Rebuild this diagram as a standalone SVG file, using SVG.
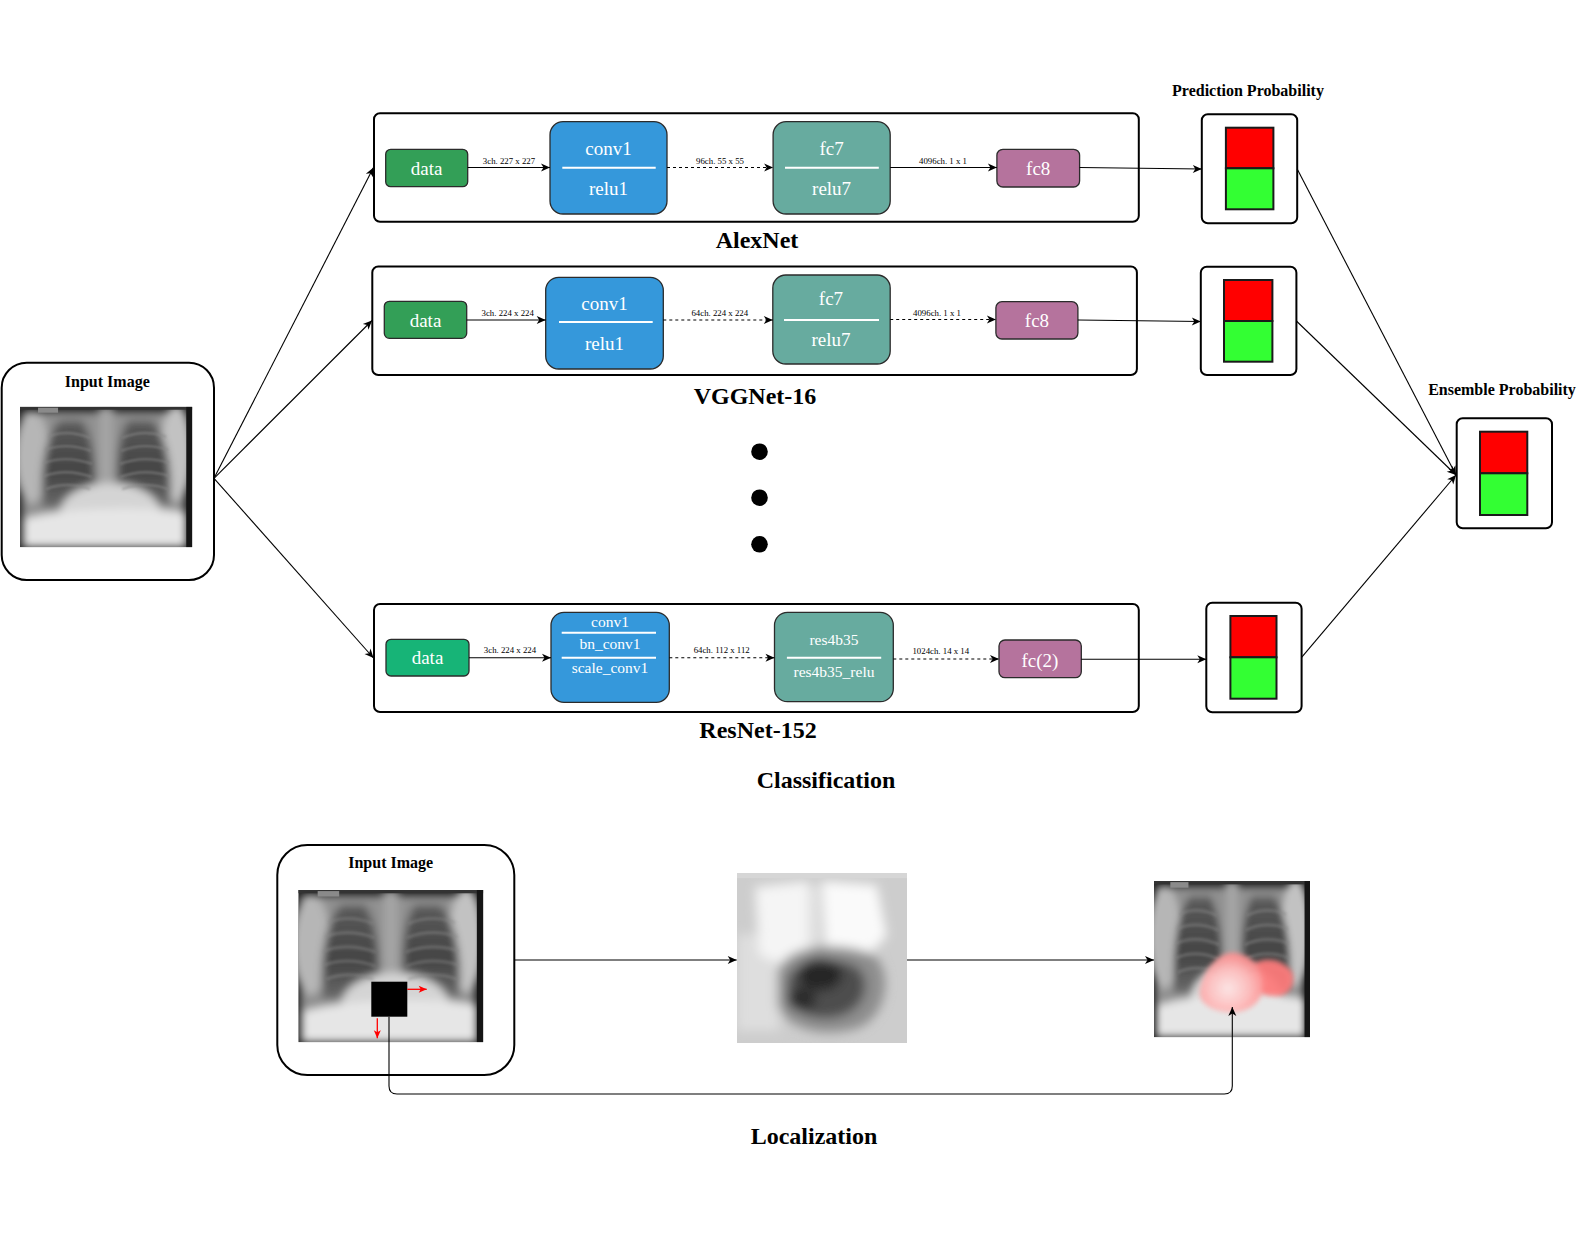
<svg xmlns="http://www.w3.org/2000/svg" xmlns:xlink="http://www.w3.org/1999/xlink" width="1593" height="1254" viewBox="0 0 1593 1254">
<style>
text{font-family:"Liberation Serif","Times New Roman",serif;text-anchor:middle}
.frame{fill:#fff;stroke:#000;stroke-width:2}
.nd{stroke:#2b2b2b;stroke-width:1.3}
.gA{fill:#339f57}
.gR{fill:#17b477}
.bl{fill:#3598db}
.tl{fill:#67ab9f}
.pk{fill:#b5739d}
.wt{fill:#fff;font-size:19px}
.ws{fill:#fff;font-size:15.5px}
.sep{stroke:#fff;stroke-width:2}
.lbl{font-size:8.8px;fill:#000}
.title{font-size:24px;font-weight:bold;fill:#000}
.sub{font-size:16px;font-weight:bold;fill:#000}
.c{fill:none;stroke:#000;stroke-width:1.1;marker-end:url(#arr)}
.d{stroke-dasharray:3 3}
.red{fill:#ff0000;stroke:#1a1a1a;stroke-width:2}
.grn{fill:#33ff33;stroke:#1a1a1a;stroke-width:2}
.ra{fill:none;stroke:#ff0000;stroke-width:1.3;marker-end:url(#rarr)}
</style>
<defs>
<marker id="arr" markerUnits="userSpaceOnUse" markerWidth="10" markerHeight="8" refX="9" refY="4" orient="auto" overflow="visible">
<path d="M0,0 L9,4 L0,8 L2.5,4 Z" fill="#000"/>
</marker>
<marker id="rarr" markerUnits="userSpaceOnUse" markerWidth="8" markerHeight="7" refX="8" refY="3.5" orient="auto" overflow="visible">
<path d="M0,0 L8,3.5 L0,7 L2,3.5 Z" fill="#ff0000"/>
</marker>
<filter id="soft" x="-10%" y="-10%" width="120%" height="120%"><feGaussianBlur stdDeviation="4"/></filter>
<filter id="rib" x="-10%" y="-10%" width="120%" height="120%"><feGaussianBlur stdDeviation="1.3"/></filter>
<filter id="soft5" x="-20%" y="-20%" width="140%" height="140%"><feGaussianBlur stdDeviation="5"/></filter>
<filter id="soft2" x="-20%" y="-20%" width="140%" height="140%"><feGaussianBlur stdDeviation="2.5"/></filter>
<radialGradient id="pinkg" cx="0.45" cy="0.6" r="0.6">
<stop offset="0" stop-color="#ffe6e6"/>
<stop offset="0.55" stop-color="#ffbcbc"/>
<stop offset="1" stop-color="#ff8a8a"/>
</radialGradient>
<linearGradient id="lung" x1="0" y1="0" x2="0" y2="1">
<stop offset="0" stop-color="#5a5a5a"/>
<stop offset="0.6" stop-color="#444"/>
<stop offset="1" stop-color="#6a6a6a"/>
</linearGradient>
<symbol id="xray" viewBox="0 0 172 140" preserveAspectRatio="none">
<rect width="172" height="140" fill="#1a1a1a"/>
<g filter="url(#soft)">
<rect x="2" y="5" width="162" height="135" fill="#909090"/>
<ellipse cx="12" cy="50" rx="18" ry="46" fill="#b6b6b6"/>
<ellipse cx="156" cy="46" rx="16" ry="48" fill="#c2c2c2"/>
<path d="M40,14 C28,24 20,55 22,100 C38,102 58,96 74,86 C76,58 72,28 62,14 Z" fill="url(#lung)"/>
<path d="M108,14 C98,28 96,58 98,86 C114,94 134,98 150,98 C152,60 146,28 132,14 Z" fill="url(#lung)"/>
<rect x="79" y="0" width="14" height="96" fill="#a4a4a4"/>
<ellipse cx="90" cy="106" rx="50" ry="30" fill="#d4d4d4"/>
<path d="M4,112 C40,100 130,98 166,106 L166,140 L4,140 Z" fill="#e6e6e6"/>
</g>
<g stroke="#8a8a8a" stroke-width="2.4" fill="none" opacity="0.55" filter="url(#rib)">
<path d="M28,30 Q46,22 70,31"/><path d="M25,43 Q46,35 71,44"/><path d="M24,56 Q46,48 72,57"/><path d="M24,69 Q46,61 72,70"/><path d="M26,82 Q46,74 70,82"/>
<path d="M102,31 Q124,22 146,30"/><path d="M101,44 Q124,35 148,43"/><path d="M100,57 Q124,48 149,56"/><path d="M100,70 Q124,61 149,69"/><path d="M102,82 Q124,74 148,82"/>
</g>
<rect x="0" y="0" width="172" height="3" fill="#333"/>
<rect x="18" y="1" width="20" height="5" fill="#8a8a8a"/>
<rect x="166" y="0" width="6" height="140" fill="#151515"/>
</symbol>
<symbol id="heat" viewBox="0 0 168 167" preserveAspectRatio="none">
<rect width="168" height="167" fill="#cdcdcd"/>
<g filter="url(#soft5)">
<rect x="0" y="60" width="42" height="95" fill="#dedede"/>
<path d="M18,14 L70,8 L74,80 L50,92 L22,80 Z" fill="#f5f5f5"/>
<path d="M84,8 L138,12 L148,62 L130,80 L88,84 Z" fill="#fafafa"/>
<rect x="70" y="12" width="12" height="60" fill="#e0e0e0"/>
<path d="M40,96 C50,72 90,66 130,78 C156,90 150,140 120,152 C90,162 50,156 40,130 Z" fill="#8e8e8e"/>
<path d="M50,104 C60,84 92,80 118,92 C134,104 128,132 104,140 C80,148 54,138 50,120 Z" fill="#4e4e4e"/>
<ellipse cx="82" cy="100" rx="22" ry="16" fill="#262626"/>
<ellipse cx="64" cy="124" rx="14" ry="11" fill="#2a2a2a"/>
</g>
<rect x="0" y="0" width="168" height="5" fill="#d6d6d6"/>
</symbol>
</defs>

<rect width="1593" height="1254" fill="#fff"/>

<g id="input-image">
<rect class="frame" x="1.7" y="362.7" width="212.3" height="217.3" rx="25"/>
<text class="sub" x="107.3" y="387.3">Input Image</text>
<use xlink:href="#xray" href="#xray" x="20" y="406.7" width="172.3" height="140.6"/>
</g>

<g id="alexnet">
<rect class="frame" x="374" y="113.3" width="764.8" height="108.4" rx="6"/>
<g id="alex-data"><rect class="nd gA" x="385.7" y="149.3" width="82" height="37.4" rx="5"/><text class="wt" x="426.7" y="174.5">data</text></g>
<g id="alex-conv1"><rect class="nd bl" x="550" y="121.7" width="117" height="92.3" rx="13"/><line class="sep" x1="562.3" y1="167.7" x2="655.7" y2="167.7"/><text class="wt" x="608.5" y="155">conv1</text><text class="wt" x="608.5" y="195">relu1</text></g>
<g id="alex-fc7"><rect class="nd tl" x="773.1" y="121.7" width="117.1" height="92.3" rx="13"/><line class="sep" x1="785" y1="167.7" x2="878.8" y2="167.7"/><text class="wt" x="831.6" y="155">fc7</text><text class="wt" x="831.6" y="195">relu7</text></g>
<g id="alex-fc8"><rect class="nd pk" x="996.9" y="149.3" width="82.7" height="37.7" rx="6"/><text class="wt" x="1038.2" y="175">fc8</text></g>
<text class="title" x="757" y="247.7">AlexNet</text>
</g>

<g id="vggnet">
<rect class="frame" x="372.3" y="266.5" width="764.6" height="108.5" rx="6"/>
<g id="vgg-data"><rect class="nd gA" x="384.3" y="301.3" width="82.4" height="37" rx="5"/><text class="wt" x="425.5" y="326.5">data</text></g>
<g id="vgg-conv1"><rect class="nd bl" x="545.7" y="277.3" width="117.6" height="91.7" rx="13"/><line class="sep" x1="559" y1="322" x2="652.7" y2="322"/><text class="wt" x="604.5" y="310">conv1</text><text class="wt" x="604.5" y="350">relu1</text></g>
<g id="vgg-fc7"><rect class="nd tl" x="772.8" y="275" width="117.4" height="89" rx="13"/><line class="sep" x1="784" y1="320" x2="879" y2="320"/><text class="wt" x="831" y="305">fc7</text><text class="wt" x="831" y="345.7">relu7</text></g>
<g id="vgg-fc8"><rect class="nd pk" x="995.9" y="301.7" width="82" height="37.3" rx="6"/><text class="wt" x="1037" y="326.7">fc8</text></g>
<text class="title" x="755" y="404.3">VGGNet-16</text>
</g>

<g id="ellipsis">
<circle cx="759.5" cy="451.7" r="8.3" fill="#000"/>
<circle cx="759.5" cy="497.7" r="8.3" fill="#000"/>
<circle cx="759.5" cy="544.3" r="8.3" fill="#000"/>
</g>

<g id="resnet">
<rect class="frame" x="374" y="604" width="764.8" height="108" rx="6"/>
<g id="res-data"><rect class="nd gR" x="386" y="639.3" width="83" height="36.7" rx="5"/><text class="wt" x="427.5" y="663.5">data</text></g>
<g id="res-conv1"><rect class="nd bl" x="551" y="612.3" width="118.3" height="90" rx="13"/><line class="sep" x1="561.7" y1="632.7" x2="656" y2="632.7"/><line class="sep" x1="561.7" y1="657.7" x2="656" y2="657.7"/><text class="ws" x="610" y="627.3">conv1</text><text class="ws" x="610" y="649.3">bn_conv1</text><text class="ws" x="610" y="672.7">scale_conv1</text></g>
<g id="res-res4b35"><rect class="nd tl" x="774.5" y="612.3" width="118.8" height="89.4" rx="13"/><line class="sep" x1="786.9" y1="657.7" x2="881.2" y2="657.7"/><text class="ws" x="834" y="645">res4b35</text><text class="ws" x="834" y="677.3">res4b35_relu</text></g>
<g id="res-fc2"><rect class="nd pk" x="999" y="640" width="82.3" height="37.7" rx="6"/><text class="wt" x="1040" y="666.7">fc(2)</text></g>
<text class="title" x="758" y="738">ResNet-152</text>
</g>

<g id="pred1"><rect class="frame" x="1201.8" y="114.3" width="95.4" height="109" rx="6"/><rect class="red" x="1225.9" y="127.7" width="47.5" height="40.6"/><rect class="grn" x="1225.9" y="168.3" width="47.5" height="41"/></g>
<g id="pred2"><rect class="frame" x="1200.8" y="266.7" width="95.6" height="108.3" rx="6"/><rect class="red" x="1224" y="280" width="48.4" height="41"/><rect class="grn" x="1224" y="321" width="48.4" height="40.7"/></g>
<g id="pred3"><rect class="frame" x="1206.3" y="602.7" width="95.3" height="109.5" rx="6"/><rect class="red" x="1230.4" y="616" width="46.1" height="41.3"/><rect class="grn" x="1230.4" y="657.3" width="46.1" height="41.4"/></g>
<g id="ensemble"><rect class="frame" x="1456.7" y="418.3" width="95.3" height="110" rx="6"/><rect class="red" x="1480" y="431.7" width="47.3" height="41.6"/><rect class="grn" x="1480" y="473.3" width="47.3" height="41.7"/></g>

<text class="sub" x="1248" y="95.7">Prediction Probability</text>
<text class="sub" x="1502" y="395">Ensemble Probability</text>
<text class="title" x="826" y="788">Classification</text>

<g id="loc-input">
<rect class="frame" x="277.3" y="845" width="237" height="230" rx="30"/>
<text class="sub" x="390.7" y="868.3">Input Image</text>
<use xlink:href="#xray" href="#xray" x="298.3" y="890" width="185" height="152.3"/>
<rect x="371.3" y="981.7" width="36" height="35" fill="#000"/>
<line class="ra" x1="407.3" y1="989.3" x2="426.7" y2="989.3"/>
<line class="ra" x1="377.3" y1="1018.3" x2="377.3" y2="1038.3"/>
</g>

<g id="loc-heatmap">
<use xlink:href="#heat" href="#heat" x="737" y="873" width="170" height="170"/>
</g>

<g id="loc-overlay">
<use xlink:href="#xray" href="#xray" x="1154" y="881" width="156" height="156.3"/>
<g filter="url(#soft2)" opacity="0.92">
<path d="M1248,968 C1262,955 1282,958 1292,972 C1296,984 1290,996 1276,996 C1262,996 1250,990 1248,980 Z" fill="#ff7a7a"/>
<path d="M1200,990 C1204,966 1222,950 1236,953 C1256,957 1266,972 1262,992 C1258,1008 1240,1014 1226,1012 C1210,1010 1198,1002 1200,990 Z" fill="url(#pinkg)"/>
</g>
</g>

<text class="title" x="814" y="1144">Localization</text>

<g id="connectors">
<line class="c" x1="214" y1="478.3" x2="373.5" y2="167.5"/>
<line class="c" x1="214" y1="478.3" x2="372" y2="320.5"/>
<line class="c" x1="214" y1="478.3" x2="373.5" y2="658"/>

<line class="c" x1="467.7" y1="167.5" x2="550" y2="167.5"/>
<line class="c d" x1="667" y1="167.5" x2="773.1" y2="167.5"/>
<line class="c" x1="890.2" y1="167.5" x2="996.9" y2="167.5"/>
<line class="c" x1="1079.6" y1="167.5" x2="1201.8" y2="169"/>
<text class="lbl" x="509" y="164">3ch. 227 x 227</text>
<text class="lbl" x="720" y="163.7">96ch. 55 x 55</text>
<text class="lbl" x="943" y="163.7">4096ch. 1 x 1</text>

<line class="c" x1="466.7" y1="320" x2="545.7" y2="320"/>
<line class="c d" x1="663.3" y1="320" x2="772.8" y2="320"/>
<line class="c d" x1="890.2" y1="319.5" x2="995.9" y2="319.5"/>
<line class="c" x1="1077.9" y1="320" x2="1200.8" y2="321.5"/>
<text class="lbl" x="507.7" y="315.7">3ch. 224 x 224</text>
<text class="lbl" x="719.8" y="315.7">64ch. 224 x 224</text>
<text class="lbl" x="937" y="315.7">4096ch. 1 x 1</text>

<line class="c" x1="469" y1="657.7" x2="551" y2="657.7"/>
<line class="c d" x1="669.3" y1="657.7" x2="774.5" y2="657.7"/>
<line class="c d" x1="893.3" y1="659" x2="999" y2="659"/>
<line class="c" x1="1081.3" y1="659.3" x2="1206.3" y2="659.3"/>
<text class="lbl" x="510" y="653.3">3ch. 224 x 224</text>
<text class="lbl" x="721.7" y="653.3">64ch. 112 x 112</text>
<text class="lbl" x="940.8" y="654">1024ch. 14 x 14</text>

<line class="c" x1="1297.2" y1="169" x2="1456" y2="475"/>
<line class="c" x1="1296.4" y1="321" x2="1456" y2="475"/>
<line class="c" x1="1301.6" y1="657.3" x2="1456" y2="475"/>

<line class="c" x1="514.3" y1="960" x2="736.7" y2="960"/>
<line class="c" x1="907" y1="960" x2="1154" y2="960"/>
<path class="c" d="M389,1016.7 V1086 Q389,1094 397,1094 H1224.3 Q1232.3,1094 1232.3,1086 V1007"/>
</g>
</svg>
